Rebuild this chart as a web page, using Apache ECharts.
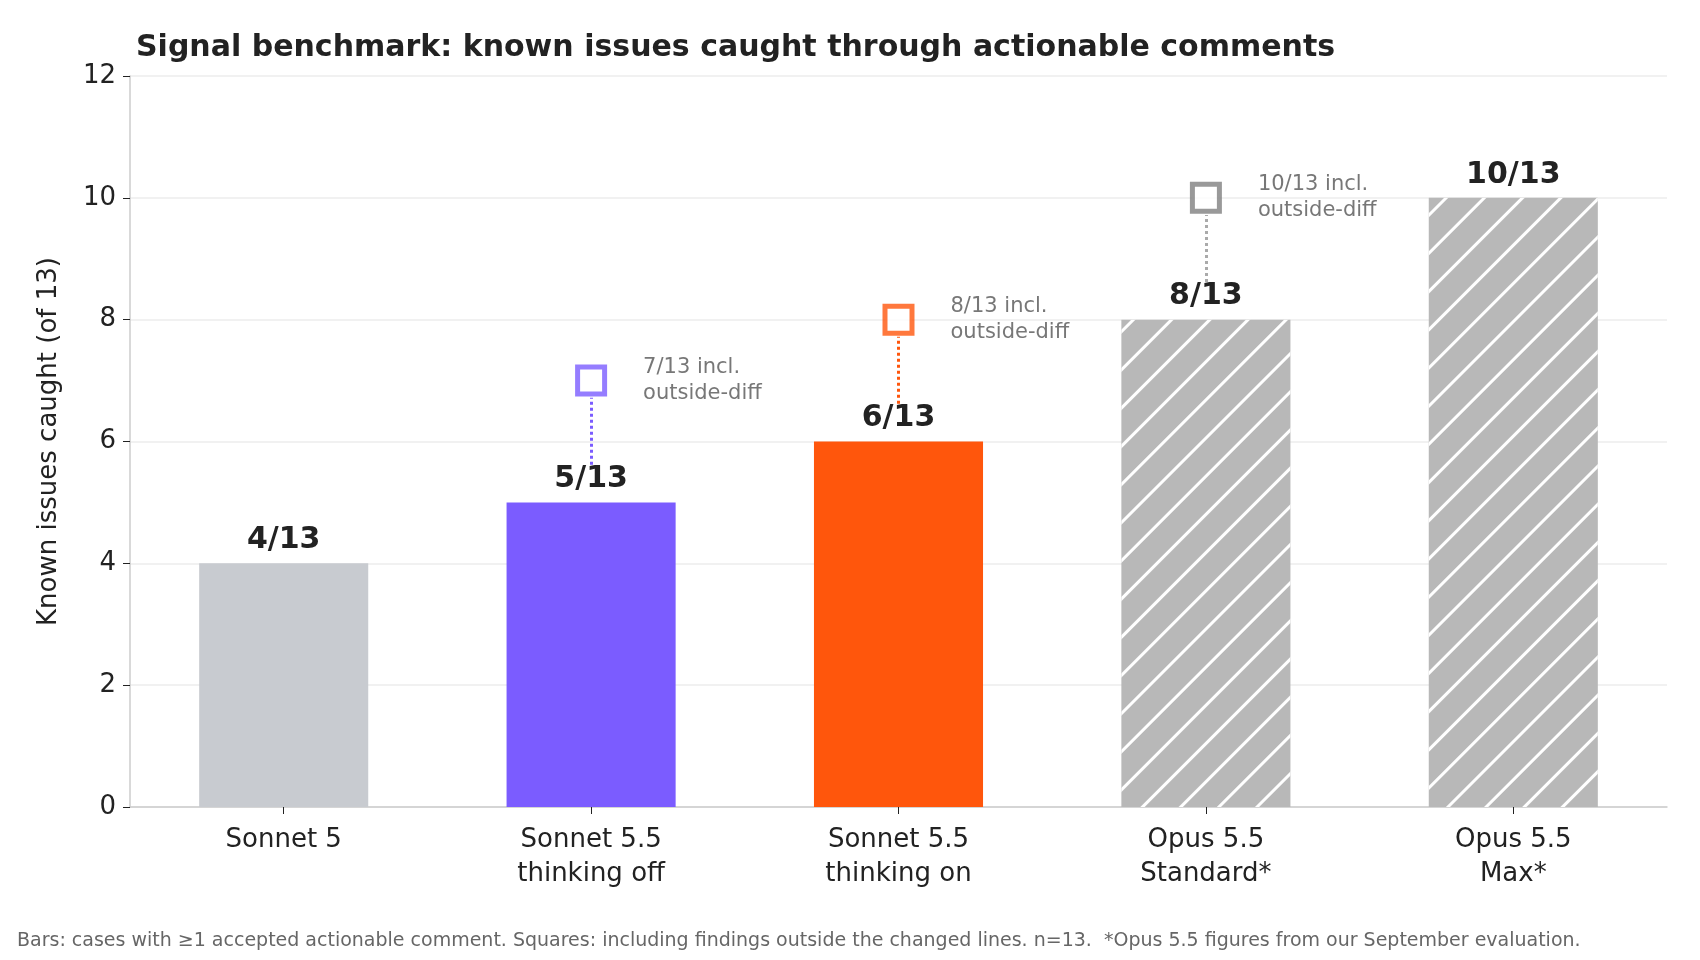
<!DOCTYPE html>
<html><head><meta charset="utf-8">
<script src="https://cdn.jsdelivr.net/npm/echarts@6/dist/echarts.min.js"></script>
<style>html,body{margin:0;padding:0;background:#fff}#c{width:1700px;height:960px}</style>
</head><body><div id="c"></div>
<script>
const categories = ['Sonnet 5', 'Sonnet 5.5\nthinking off', 'Sonnet 5.5\nthinking on', 'Opus 5.5\nStandard*', 'Opus 5.5\nMax*'];
const caught = [4, 5, 6, 8, 10];
const inclOutside = [null, 7, 8, 10, null];
const barColors = ['#c8cbd0', '#7b5cff', '#ff560c', '#b8b8b8', '#b8b8b8'];
const squareColors = [null, '#7b5cff', '#ff560c', '#808080', null];
const lineColors = [null, '#7b5cff', '#ff560c', '#aaaaaa', null];
const hatched = [false, false, false, true, true];
const yTicks = [0, 2, 4, 6, 8, 10, 12];
const total = 13;

const chart = echarts.init(document.getElementById('c'));
const barData = caught.map((v, i) => ({
  value: v,
  itemStyle: {
    color: barColors[i],
    decal: hatched[i] ? { symbol: 'rect', color: '#ffffff', dashArrayX: [1, 0], dashArrayY: [2.5, 24], rotation: -Math.PI / 4 } : { symbol: 'none' }
  }
}));
const sqData = [];
const lineData = [];
inclOutside.forEach((v, i) => {
  if (v == null) return;
  sqData.push({ value: [i, v], itemStyle: { borderColor: squareColors[i] },
    label: { formatter: v + '/' + total + ' incl.\noutside-diff' } });
  lineData.push([{ coord: [i, caught[i] + 0.62], lineStyle: { color: lineColors[i] } }, { coord: [i, v - 0.28] }]);
});
chart.setOption({
  aria: { enabled: true, decal: { show: true } },
  title: { text: 'Signal benchmark: known issues caught through actionable comments', left: 131, top: 28,
    textStyle: { fontFamily: 'DejaVu Sans', fontSize: 30, fontWeight: 'bold', color: '#222' } },
  graphic: [{ type: 'text', left: 17, top: 932, style: { text: 'Bars: cases with ≥1 accepted actionable comment. Squares: including findings outside the changed lines. n=13.  *Opus 5.5 figures from our September evaluation.',
    fontFamily: 'DejaVu Sans', fontSize: 19, fill: '#666' } }],
  grid: { left: 130, right: 33, top: 76, bottom: 153 },
  xAxis: { type: 'category', data: categories,
    axisLine: { lineStyle: { color: '#cccccc', width: 1.5 } },
    axisTick: { show: true, alignWithLabel: true, length: 7, lineStyle: { color: '#222' } },
    axisLabel: { fontFamily: 'DejaVu Sans', fontSize: 26, color: '#222', margin: 16, lineHeight: 34 } },
  yAxis: { type: 'value', min: 0, max: 12, interval: 2,
    name: 'Known issues caught (of 13)', nameLocation: 'middle', nameGap: 68,
    nameTextStyle: { fontFamily: 'DejaVu Sans', fontSize: 26, color: '#222' },
    axisLine: { show: true, lineStyle: { color: '#cccccc', width: 1.5 } },
    axisTick: { show: true, length: 7, lineStyle: { color: '#222' } },
    axisLabel: { fontFamily: 'DejaVu Sans', fontSize: 26, color: '#222', margin: 14, formatter: v => yTicks.includes(v) ? v : '' },
    splitLine: { lineStyle: { color: '#ececec', width: 1.5 } } },
  series: [
    { type: 'bar', data: barData, barWidth: '55%',
      label: { show: true, position: 'top', distance: 8, formatter: p => p.value + '/' + total,
        fontFamily: 'DejaVu Sans', fontSize: 30, fontWeight: 'bold', color: '#222' } },
    { type: 'scatter', data: sqData, symbol: 'rect', symbolSize: 27, z: 5,
      itemStyle: { color: '#fff', borderWidth: 5, decal: { symbol: 'none' } },
      label: { show: true, position: 'right', distance: 36, align: 'left',
        fontFamily: 'DejaVu Sans', fontSize: 21, color: '#555', lineHeight: 26 },
      markLine: { symbol: 'none', silent: true, label: { show: false },
        lineStyle: { type: 'dotted', width: 3 }, data: lineData } }
  ]
});
</script></body></html>
